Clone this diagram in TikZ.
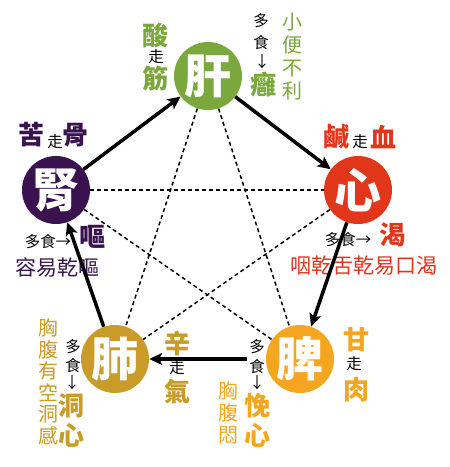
\documentclass[tikz,border=0pt]{standalone}
\usepackage{fontspec}
\usetikzlibrary{arrows.meta}
\newfontfamily\cjk{Noto Sans CJK TC}
\definecolor{grn}{HTML}{7BA83C}
\definecolor{rd}{HTML}{E2361B}
\definecolor{pur}{HTML}{3A1250}
\definecolor{gld}{HTML}{C99B28}
\definecolor{org}{HTML}{F5A51E}
\tikzset{
  organ/.style={circle, minimum size=68pt, inner sep=0pt, text=white, font=\cjk\bfseries\fontsize{47}{47}\selectfont},
  big/.style={font=\cjk\bfseries\fontsize{26}{28}\selectfont, inner sep=0pt},
  mid/.style={font=\cjk\fontsize{21}{22}\selectfont, inner sep=0pt, align=center},
  small/.style={font=\cjk\fontsize{15.5}{16}\selectfont, inner sep=0pt, align=center},
  arr/.style={line width=3.5pt, -{Stealth[length=13pt,width=12pt,inset=3pt]}},
  dsh/.style={line width=1.5pt, dash pattern=on 4pt off 3pt},
}
\begin{document}
\begin{tikzpicture}[x=1pt,y=-1pt]
\path[use as bounding box, fill=white] (0,0) rectangle (450,467);
% organs
\node[organ, fill=grn] (liv) at (208,76) {肝};
\node[organ, fill=rd]  (hea) at (358,190) {心};
\node[organ, fill=org] (spl) at (300,359) {脾};
\node[organ, fill=gld] (lun) at (115,359) {肺};
\node[organ, fill=pur] (kid) at (56,190) {腎};
% liver labels
\node[big, text=grn] (l1) at (155,35) {酸};
\node[small] (l2) at (156,57) {走};
\node[big, text=grn] (l3) at (155,79) {筋};
\node[small] (l4) at (261,21) {多};
\node[small] (l5) at (261,43) {食};
\node[small] (l6) at (262,62) {↓};
\node[big, text=grn] (l7) at (263,85) {癰};
\node[mid, text=grn, font=\cjk\fontsize{20}{23}\selectfont] (l8) at (292,56.5) {小\\便\\不\\利};
% heart labels
\node[big, text=rd] (h1) at (336,137) {鹹};
\node[small] (h2) at (360,142) {走};
\node[big, text=rd] (h3) at (383,137) {血};
\node[small] (h4) at (348,240) {多食→};
\node[big, text=rd] (h5) at (392,235) {渴};
\node[mid, text=rd] (h6) at (364,266) {咽乾舌乾易口渴};
% kidney labels
\node[big, text=pur] (k1) at (32,135) {苦};
\node[small] (k2) at (55,142) {走};
\node[big, text=pur] (k3) at (76,135) {骨};
\node[small] (k4) at (48,242) {多食→};
\node[big, text=pur] (k5) at (92,237) {嘔};
\node[mid, text=pur] (k6) at (58,267) {容易乾嘔};
% lung labels
\node[mid, text=gld, font=\cjk\fontsize{20}{21.6}\selectfont] (u1) at (48,382) {胸\\腹\\有\\空\\洞\\感};
\node[small] (u2) at (73,347) {多};
\node[small] (u3) at (73,366) {食};
\node[small] (u4) at (72,383) {↓};
\node[big, text=gld] (u5) at (72,406) {洞};
\node[big, text=gld] (u6) at (72,435) {心};
\node[big, text=gld] (u7) at (177,343) {辛};
\node[small] (u8) at (177,368) {走};
\node[big, text=gld] (u9) at (177,392) {氣};
% spleen labels
\node[big, text=org] (s1) at (356,340) {甘};
\node[small] (s2) at (354,364) {走};
\node[big, text=org] (s3) at (356,390) {肉};
\node[small] (s4) at (257,347) {多};
\node[small] (s5) at (257,367) {食};
\node[small] (s6) at (257,383) {↓};
\node[big, text=org] (s7) at (257,406) {悗};
\node[big, text=org] (s8) at (257,435) {心};
\node[mid, text=org, font=\cjk\fontsize{20}{22}\selectfont] (s9) at (228,413) {胸\\腹\\悶};
% dashed star
\draw[dsh] (liv) -- (spl);
\draw[dsh] (liv) -- (lun);
\draw[dsh] (kid) -- (hea);
\draw[dsh] (hea) -- (lun);
\draw[dsh] (kid) -- (spl);
% generating cycle
\draw[arr] (kid) -- (liv);
\draw[arr] (liv) -- (hea);
\draw[arr] (hea) -- (spl);
\draw[arr, shorten <=19pt] (spl) -- (lun);
\draw[arr] (lun) -- (kid);
\end{tikzpicture}
\end{document}
